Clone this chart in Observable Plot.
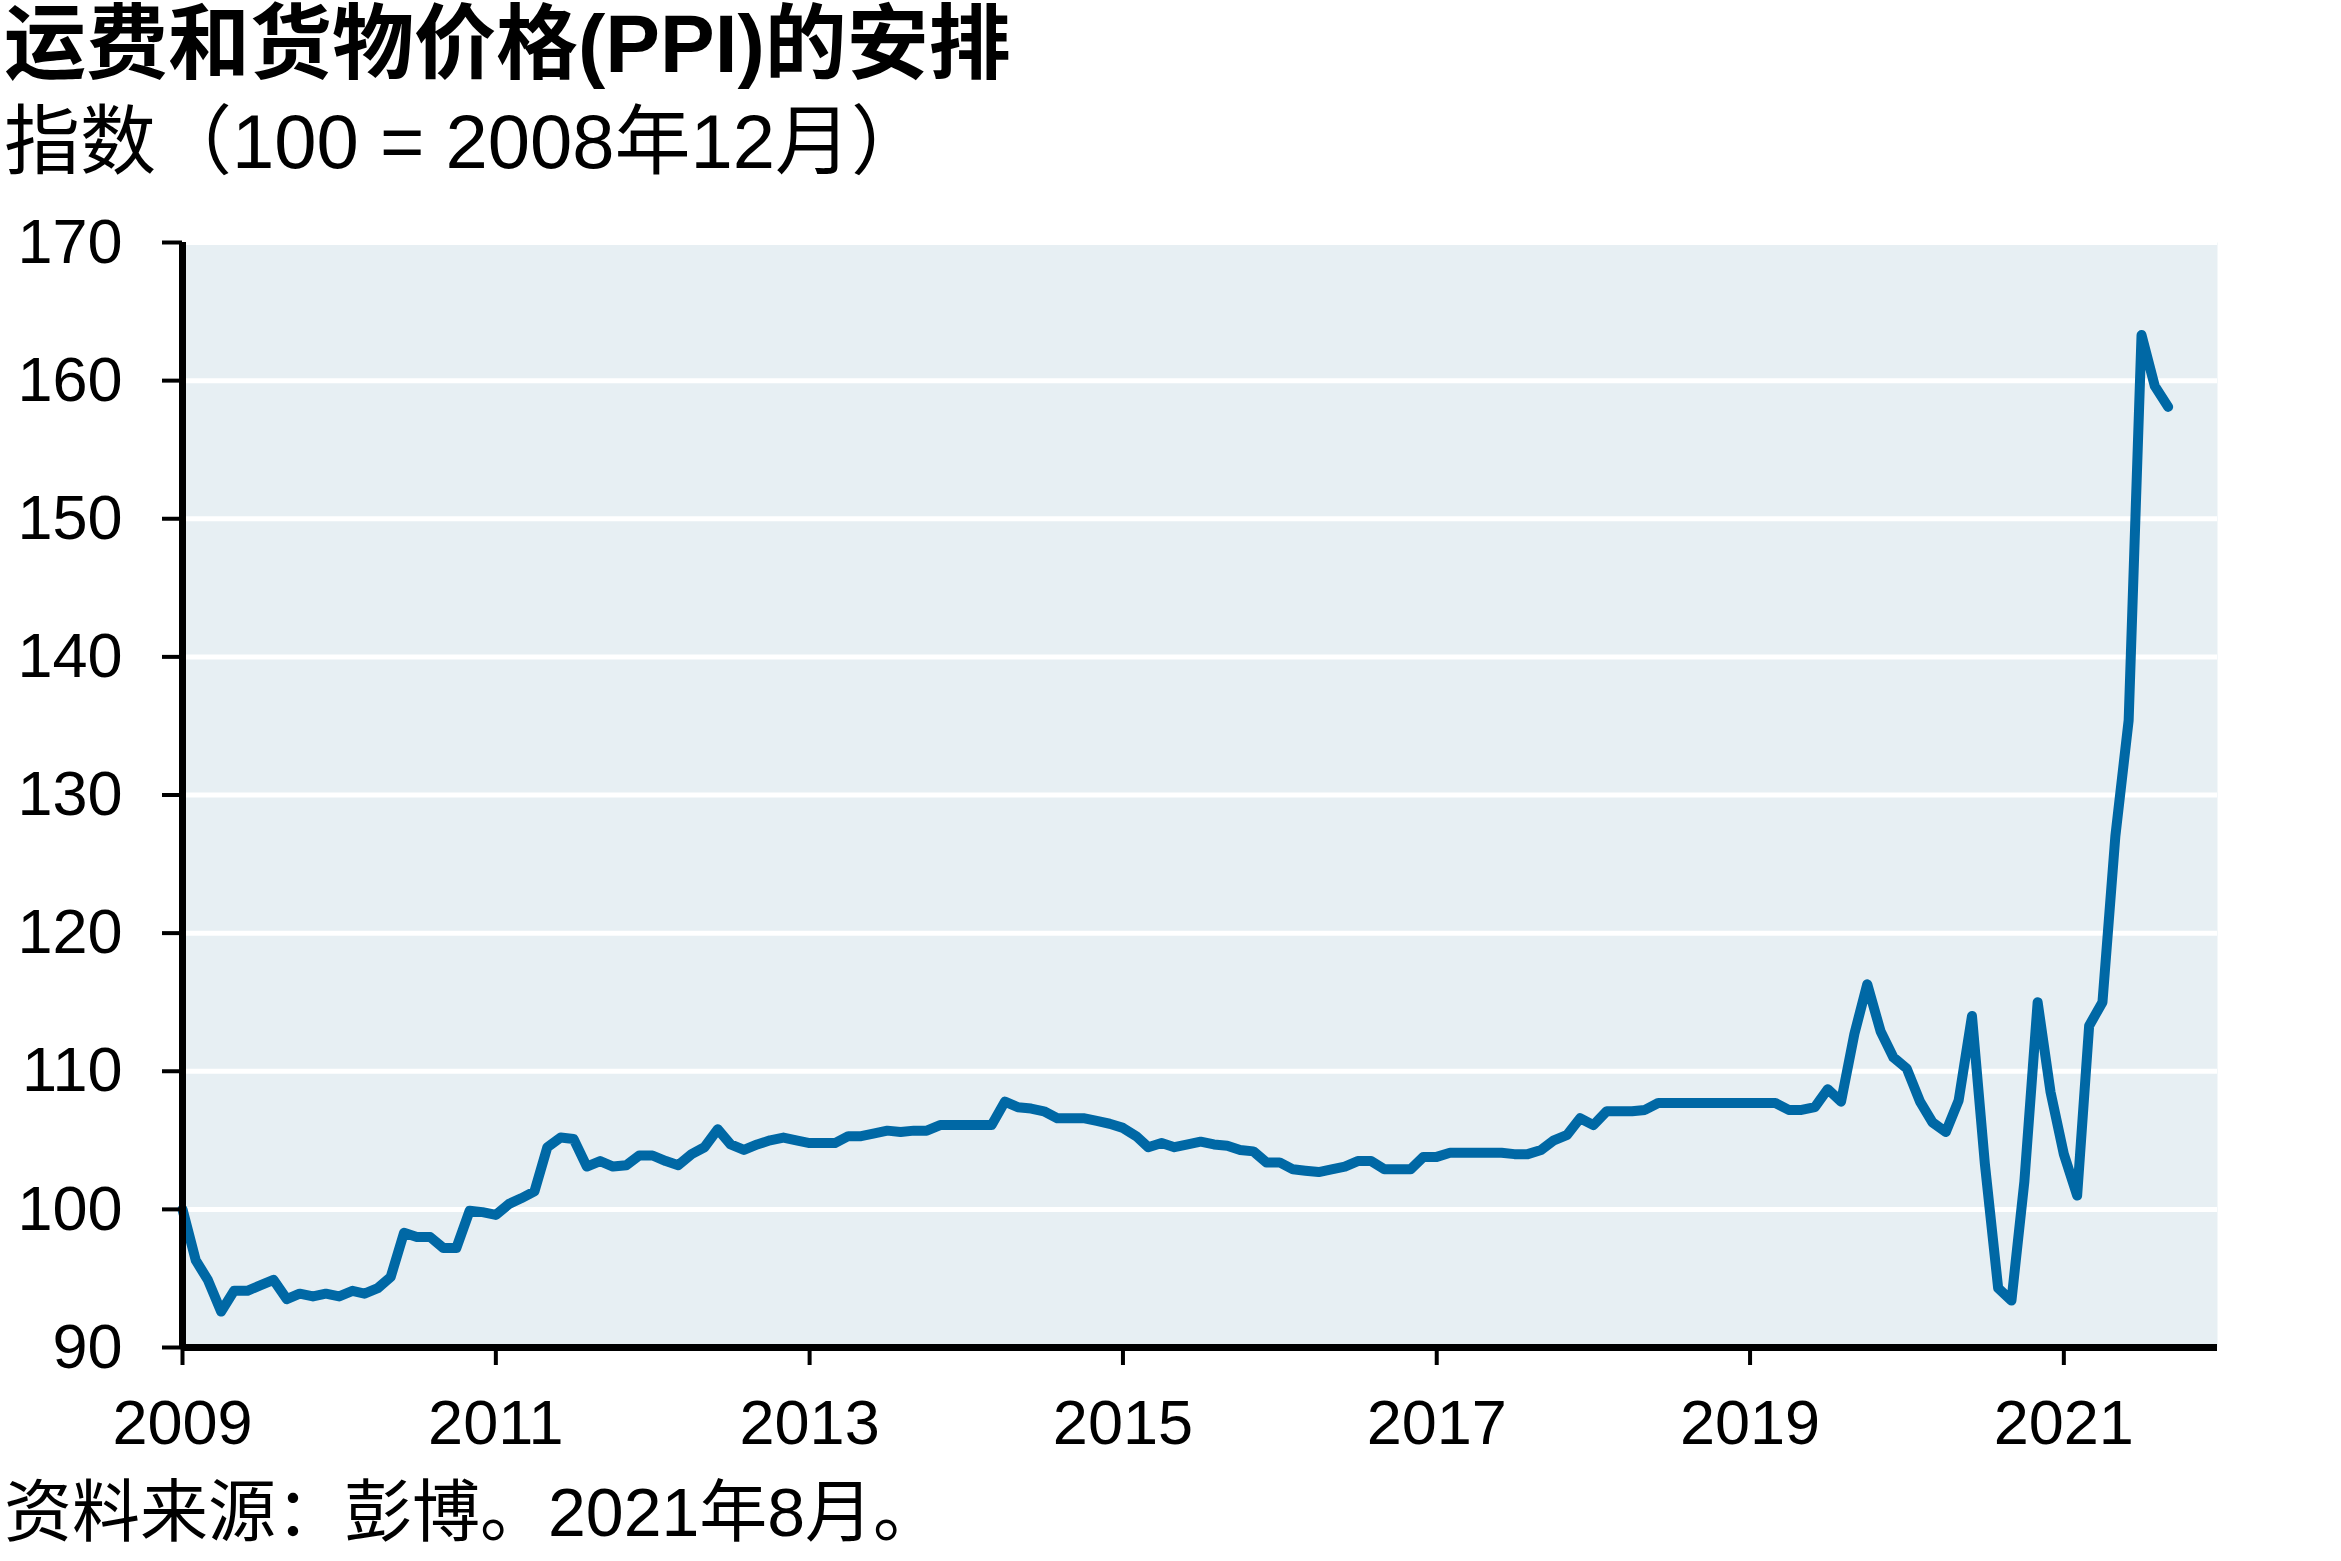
<!DOCTYPE html>
<html>
<head>
<meta charset="utf-8">
<script src="https://cdn.jsdelivr.net/npm/d3@7"></script>
<script src="https://cdn.jsdelivr.net/npm/@observablehq/plot@0.6"></script>
<style>
  html, body { margin: 0; padding: 0; background: #fff; }
  body { width: 2341px; height: 1561px; position: relative; overflow: hidden;
         font-family: "Liberation Sans", Arial, "Noto Sans CJK SC", sans-serif; color: #000; }
  .t { position: absolute; left: 4px; white-space: nowrap; line-height: 1; }
  #title { top: 3px; font-size: 82px; font-weight: bold; }
  #subtitle { top: 104px; font-size: 76px; }
  #caption { top: 1478px; font-size: 68px; }
  #chart { position: absolute; left: 0; top: 200px; }
</style>
</head>
<body>
<div id="title" class="t">运费和货物价格(PPI)的安排</div>
<div id="subtitle" class="t">指数（100 = 2008年12月）</div>
<div id="chart"></div>
<div id="caption" class="t">资料来源：彭博。2021年8月。</div>
<script>
// Monthly index, Dec 2008 (=100) through Aug 2021 (plotted at month end)
const startMonth = "2009-01-01";
const values = [
  100.0, 96.3, 94.9, 92.6, 94.1, 94.1, 94.5, 94.9, 93.5, 93.9, 93.7, 93.9,
  93.7, 94.1, 93.9, 94.3, 95.1, 98.3, 98.0, 98.0, 97.2, 97.2, 99.9, 99.8,
  99.6, 100.4, 100.8, 101.3, 104.5, 105.2, 105.1, 103.1, 103.5, 103.1, 103.2, 103.9,
  103.9, 103.5, 103.2, 104.0, 104.5, 105.8, 104.7, 104.3, 104.7, 105.0, 105.2, 105.0,
  104.8, 104.8, 104.8, 105.3, 105.3, 105.5, 105.7, 105.6, 105.7, 105.7, 106.1, 106.1,
  106.1, 106.1, 106.1, 107.8, 107.4, 107.3, 107.1, 106.6, 106.6, 106.6, 106.4, 106.2,
  105.9, 105.3, 104.5, 104.8, 104.5, 104.7, 104.9, 104.7, 104.6, 104.3, 104.2, 103.4,
  103.4, 102.9, 102.8, 102.7, 102.9, 103.1, 103.5, 103.5, 102.9, 102.9, 102.9, 103.8,
  103.8, 104.1, 104.1, 104.1, 104.1, 104.1, 104.0, 104.0, 104.3, 105.0, 105.4, 106.6,
  106.1, 107.1, 107.1, 107.1, 107.2, 107.7, 107.7, 107.7, 107.7, 107.7, 107.7, 107.7,
  107.7, 107.7, 107.7, 107.2, 107.2, 107.4, 108.7, 107.8, 112.7, 116.3, 112.9, 111.0,
  110.2, 107.8, 106.3, 105.6, 107.9, 114.0, 103.3, 94.3, 93.4, 102.0, 115.0, 108.5,
  104.0, 101.0, 113.3, 115.0, 127.0, 135.4, 163.3, 159.6, 158.1
];
const yTicks = [90, 100, 110, 120, 130, 140, 150, 160, 170];
const gridValues = [100, 110, 120, 130, 140, 150, 160, 170];
const xTickYears = [2009, 2011, 2013, 2015, 2017, 2019, 2021];

const start = new Date(startMonth + "T00:00:00Z");
const data = values.map((v, i) => ({date: d3.utcMonth.offset(start, i), value: v}));
const xTicks = xTickYears.map(y => new Date(Date.UTC(y, 0, 1)));
const xDomain = [new Date(Date.UTC(2009, 0, 1)), new Date(Date.UTC(2021, 11, 25))];

const chart = Plot.plot({
  width: 2341,
  height: 1290,
  marginTop: 42,
  marginLeft: 182,
  marginRight: 124,
  marginBottom: 143,
  style: {fontFamily: '"Liberation Sans", Arial, sans-serif', fontSize: "62px", background: "transparent", color: "#000", overflow: "visible"},
  x: {type: "utc", domain: xDomain, label: null},
  y: {domain: [90, 170], label: null},
  marks: [
    Plot.frame({fill: "#e7eff3", stroke: null}),
    Plot.ruleY(gridValues, {stroke: "#ffffff", strokeWidth: 5}),
    Plot.lineY(data, {x: "date", y: "value", stroke: "#0068a5", strokeWidth: 10, strokeLinejoin: "round", strokeLinecap: "round"}),
    Plot.axisY(yTicks, {tickSize: 20, tickPadding: 40, strokeWidth: 4, label: null, fontSize: 63}),
    Plot.axisX(xTicks, {tickSize: 18, tickPadding: 34, strokeWidth: 4, tickFormat: "%Y", label: null, fontSize: 63}),
    Plot.ruleX([xDomain[0]], {stroke: "#000", strokeWidth: 7}),
    Plot.ruleY([90], {stroke: "#000", strokeWidth: 7})
  ]
});
document.getElementById("chart").appendChild(chart);
</script>
</body>
</html>
